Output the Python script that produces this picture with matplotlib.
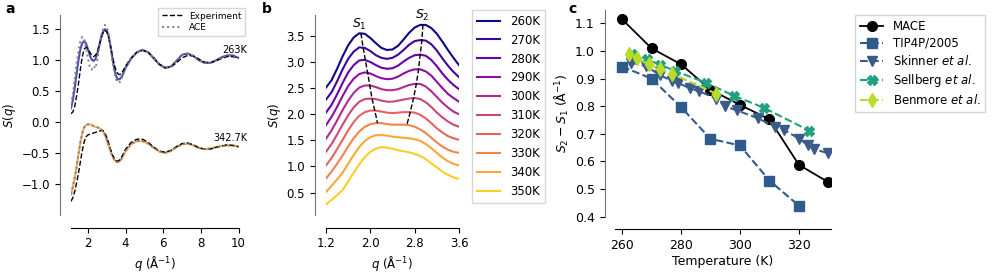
import numpy as np
import matplotlib
matplotlib.use("Agg")
import matplotlib.pyplot as plt

# ---------------- panel a: S(q) at two temperatures ----------------
qa = [1.1, 1.2, 1.3, 1.4, 1.5, 1.6, 1.7, 1.8, 1.9, 2.0, 2.1, 2.2, 2.3, 2.4, 2.5,
      2.6, 2.7, 2.8, 2.9, 3.0, 3.1, 3.2, 3.3, 3.4, 3.5, 3.6, 3.7, 3.8, 3.9, 4.0,
      4.3, 4.6, 4.9, 5.2, 5.5, 5.8, 6.1, 6.4, 6.7, 7.0, 7.3, 7.6, 7.9, 8.2, 8.5,
      8.8, 9.1, 9.4, 9.7, 10.0]

mace_263 = [0.22, 0.35, 0.55, 0.78, 1.00, 1.17, 1.27, 1.30, 1.26, 1.17, 1.07, 1.00, 0.98, 1.01, 1.10,
            1.23, 1.36, 1.45, 1.49, 1.47, 1.38, 1.22, 1.03, 0.85, 0.73, 0.68, 0.69, 0.73, 0.80, 0.87,
            1.02, 1.12, 1.16, 1.12, 1.02, 0.92, 0.87, 0.89, 0.98, 1.08, 1.10, 1.06, 0.99, 0.95, 0.95,
            0.99, 1.04, 1.07, 1.07, 1.03]
ace_263 = [0.28, 0.45, 0.70, 0.95, 1.15, 1.30, 1.37, 1.33, 1.18, 1.02, 0.88, 0.84, 0.90, 0.86, 1.00,
           1.20, 1.38, 1.50, 1.56, 1.53, 1.40, 1.20, 0.98, 0.80, 0.68, 0.63, 0.64, 0.70, 0.78, 0.86,
           1.02, 1.12, 1.16, 1.12, 1.02, 0.92, 0.87, 0.89, 0.98, 1.08, 1.10, 1.06, 0.99, 0.95, 0.95,
           0.99, 1.04, 1.07, 1.07, 1.03]
exp_263 = [0.13, 0.16, 0.25, 0.42, 0.62, 0.85, 1.05, 1.17, 1.20, 1.18, 1.12, 1.07, 1.05, 1.07, 1.13,
           1.23, 1.34, 1.43, 1.47, 1.45, 1.36, 1.22, 1.06, 0.92, 0.82, 0.77, 0.76, 0.79, 0.84, 0.90,
           1.03, 1.12, 1.15, 1.12, 1.03, 0.93, 0.87, 0.88, 0.95, 1.03, 1.07, 1.06, 1.01, 0.96, 0.95,
           0.98, 1.02, 1.05, 1.05, 1.03]

mace_343 = [-1.17, -1.05, -0.90, -0.72, -0.52, -0.33, -0.18, -0.09, -0.05, -0.04, -0.04, -0.05, -0.07, -0.08, -0.09,
            -0.10, -0.12, -0.15, -0.21, -0.29, -0.38, -0.47, -0.55, -0.61, -0.64, -0.65, -0.63, -0.59, -0.53, -0.47,
            -0.36, -0.31, -0.31, -0.35, -0.42, -0.48, -0.50, -0.47, -0.41, -0.36, -0.35, -0.38, -0.42, -0.44, -0.43,
            -0.41, -0.39, -0.38, -0.38, -0.40]
ace_343 = [-1.16, -1.04, -0.89, -0.71, -0.51, -0.33, -0.18, -0.09, -0.05, -0.04, -0.04, -0.05, -0.07, -0.08, -0.09,
           -0.10, -0.12, -0.15, -0.21, -0.29, -0.38, -0.47, -0.55, -0.61, -0.64, -0.65, -0.63, -0.59, -0.53, -0.47,
           -0.36, -0.31, -0.31, -0.35, -0.42, -0.48, -0.50, -0.47, -0.41, -0.36, -0.35, -0.38, -0.42, -0.44, -0.43,
           -0.41, -0.39, -0.38, -0.38, -0.40]
exp_343 = [-1.28, -1.22, -1.12, -0.98, -0.82, -0.64, -0.46, -0.32, -0.24, -0.21, -0.20, -0.19, -0.18, -0.17, -0.16,
           -0.15, -0.14, -0.14, -0.18, -0.25, -0.34, -0.44, -0.53, -0.59, -0.63, -0.63, -0.61, -0.56, -0.50, -0.44,
           -0.33, -0.28, -0.28, -0.33, -0.41, -0.47, -0.49, -0.46, -0.40, -0.35, -0.34, -0.37, -0.42, -0.44, -0.44,
           -0.41, -0.39, -0.37, -0.38, -0.40]

# ---------------- panel b: S(q) vs temperature ----------------
qb = [1.2, 1.3, 1.4, 1.5, 1.6, 1.7, 1.8, 1.9, 2.0, 2.1, 2.2, 2.3, 2.4,
      2.5, 2.6, 2.7, 2.8, 2.9, 3.0, 3.1, 3.2, 3.3, 3.4, 3.5, 3.6]
temps_b = ["260K", "270K", "280K", "290K", "300K", "310K", "320K", "330K", "340K", "350K"]
sq_b = [
    [0.26, 0.40, 0.62, 0.86, 1.07, 1.22, 1.30, 1.29, 1.21, 1.11, 1.02, 0.98, 0.99, 1.06, 1.18, 1.31, 1.41, 1.46, 1.46, 1.40, 1.29, 1.14, 0.98, 0.83, 0.69],
    [0.28, 0.42, 0.63, 0.86, 1.06, 1.20, 1.28, 1.27, 1.21, 1.13, 1.08, 1.06, 1.08, 1.14, 1.23, 1.33, 1.40, 1.42, 1.41, 1.34, 1.22, 1.07, 0.93, 0.81, 0.71],
    [0.28, 0.43, 0.63, 0.85, 1.05, 1.19, 1.28, 1.29, 1.25, 1.19, 1.14, 1.12, 1.13, 1.18, 1.26, 1.33, 1.38, 1.39, 1.37, 1.29, 1.17, 1.03, 0.91, 0.81, 0.73],
    [0.29, 0.45, 0.64, 0.85, 1.04, 1.18, 1.27, 1.30, 1.28, 1.23, 1.19, 1.17, 1.18, 1.22, 1.28, 1.33, 1.36, 1.36, 1.32, 1.24, 1.12, 1.00, 0.89, 0.81, 0.74],
    [0.28, 0.44, 0.63, 0.83, 1.01, 1.16, 1.26, 1.30, 1.30, 1.27, 1.23, 1.21, 1.21, 1.23, 1.27, 1.31, 1.33, 1.33, 1.28, 1.19, 1.08, 0.97, 0.88, 0.80, 0.75],
    [0.28, 0.43, 0.61, 0.80, 0.98, 1.13, 1.24, 1.29, 1.30, 1.29, 1.26, 1.24, 1.24, 1.26, 1.28, 1.30, 1.31, 1.29, 1.23, 1.14, 1.03, 0.94, 0.86, 0.80, 0.76],
    [0.27, 0.41, 0.58, 0.76, 0.94, 1.10, 1.22, 1.29, 1.32, 1.32, 1.30, 1.28, 1.27, 1.28, 1.29, 1.29, 1.28, 1.24, 1.17, 1.08, 0.98, 0.90, 0.83, 0.79, 0.76],
    [0.27, 0.40, 0.55, 0.71, 0.88, 1.04, 1.17, 1.26, 1.31, 1.33, 1.33, 1.31, 1.30, 1.30, 1.30, 1.29, 1.26, 1.21, 1.14, 1.05, 0.96, 0.88, 0.82, 0.78, 0.76],
    [0.26, 0.38, 0.50, 0.63, 0.80, 0.97, 1.12, 1.24, 1.31, 1.35, 1.35, 1.34, 1.32, 1.31, 1.30, 1.29, 1.27, 1.24, 1.18, 1.10, 1.01, 0.92, 0.85, 0.80, 0.77],
    [0.27, 0.36, 0.45, 0.55, 0.71, 0.88, 1.04, 1.18, 1.28, 1.34, 1.37, 1.36, 1.34, 1.31, 1.29, 1.27, 1.24, 1.20, 1.14, 1.06, 0.98, 0.90, 0.84, 0.79, 0.76],
]
offset_b = 0.25
# peak positions (260K .. 330K)
s1_q = [1.83, 1.87, 1.91, 1.95, 1.99, 2.03, 2.08, 2.13]
s1_h = [1.30, 1.28, 1.29, 1.30, 1.30, 1.30, 1.32, 1.33]
s2_q = [2.95, 2.93, 2.90, 2.87, 2.83, 2.78, 2.72, 2.66]
s2_h = [1.47, 1.42, 1.39, 1.36, 1.33, 1.31, 1.29, 1.30]

# ---------------- panel c: S2 - S1 vs temperature ----------------
mace_T = [260, 270, 280, 290, 300, 310, 320, 330]
mace_d = [1.115, 1.01, 0.952, 0.86, 0.805, 0.753, 0.588, 0.525]
tip_T = [260, 270, 280, 290, 300, 310, 320]
tip_d = [0.944, 0.90, 0.797, 0.682, 0.658, 0.531, 0.440]
skin_T = [263, 268, 273, 277, 279, 283, 286, 292, 295, 299, 306, 312, 315, 320, 323, 325, 330]
skin_d = [0.958, 0.946, 0.912, 0.892, 0.885, 0.865, 0.855, 0.828, 0.80, 0.785, 0.757, 0.726, 0.714, 0.683, 0.66, 0.645, 0.63]
sell_T = [263.5, 268.5, 273, 278, 288.5, 298, 308, 323.5]
sell_d = [0.99, 0.97, 0.95, 0.928, 0.885, 0.838, 0.795, 0.712]
benm_T = [262.5, 265, 269, 273, 277, 292]
benm_d = [0.99, 0.975, 0.952, 0.935, 0.918, 0.845]

plt.rcParams['font.family'] = 'DejaVu Sans'
plt.rcParams['axes.labelpad'] = 2.5

W, H = 996, 273
fig = plt.figure(figsize=(W / 100, H / 100), dpi=100)


def px_axes(x0, y0, x1, y1):
    # axes from pixel box (top-left origin)
    return fig.add_axes([x0 / W, 1 - y1 / H, (x1 - x0) / W, (y1 - y0) / H])


def style(ax, fs):
    ax.spines['top'].set_visible(False)
    ax.spines['right'].set_visible(False)
    ax.spines['left'].set_position(('outward', 8))
    ax.spines['bottom'].set_position(('outward', 9))
    ax.spines['left'].set_color('0.45')
    ax.tick_params(length=3.5, width=0.8, labelsize=fs)
    ax.xaxis.label.set_size(fs)
    ax.yaxis.label.set_size(fs)


# panel a
axa = px_axes(71, 15, 238.5, 215)
axa.plot(qa, mace_263, color='#4f4fb3', lw=1.5)
axa.plot(qa, mace_343, color='#f5a55c', lw=1.5)
axa.plot(qa, exp_263, color='black', ls='--', lw=1.0, label='Experiment')
axa.plot(qa, ace_263, color='0.5', ls=':', lw=1.4, label='ACE')
axa.plot(qa, exp_343, color='black', ls='--', lw=1.0)
axa.plot(qa, ace_343, color='0.5', ls=':', lw=1.4)
axa.set_xlim(1.1, 10)
axa.set_ylim(-1.5, 1.72)
axa.set_xticks([2, 4, 6, 8, 10])
axa.set_yticks([-1.0, -0.5, 0.0, 0.5, 1.0, 1.5])
axa.set_xlabel(r'$q$ (Å$^{-1}$)')
axa.set_ylabel(r'$S(q)$')
axa.text(10.45, 1.16, '263K', fontsize=7, ha='right', va='center')
axa.text(10.45, -0.26, '342.7K', fontsize=7, ha='right', va='center')
axa.legend(loc='upper right', bbox_to_anchor=(245 / W, 1 - 8 / H), bbox_transform=fig.transFigure,
           fontsize=6.5, frameon=True, fancybox=False, edgecolor='0.8', borderaxespad=0,
           handlelength=2.2, labelspacing=0.3)
style(axa, 8.5)

# panel b
axb = px_axes(326, 15, 459, 215)
cols = plt.cm.plasma(np.linspace(0, 0.9, len(temps_b)))
for i, (lab, s) in enumerate(zip(temps_b, sq_b)):
    off = offset_b * (len(temps_b) - 1 - i)
    axb.plot(qb, np.array(s) + off, color=cols[i], lw=1.5, label=lab)
offs = [offset_b * (len(temps_b) - 1 - i) for i in range(len(s1_q))]
axb.plot(s1_q, np.array(s1_h) + np.array(offs), 'k--', lw=1.0)
axb.plot(s2_q, np.array(s2_h) + np.array(offs), 'k--', lw=1.0)
axb.text(s1_q[0] - 0.02, 3.72, r'$S_1$', fontsize=9, ha='center', va='center')
axb.text(s2_q[0] - 0.02, 3.9, r'$S_2$', fontsize=9, ha='center', va='center')
axb.set_xlim(1.2, 3.6)
axb.set_ylim(0.07, 3.9)
axb.set_xticks([1.2, 2.0, 2.8, 3.6])
axb.set_yticks([0.5, 1.0, 1.5, 2.0, 2.5, 3.0, 3.5])
axb.set_xlabel(r'$q$ (Å$^{-1}$)')
axb.set_ylabel(r'$S(q)$')
axb.legend(loc='upper left', bbox_to_anchor=(472 / W, 1 - 10 / H), bbox_transform=fig.transFigure,
           fontsize=8.5, fancybox=False, edgecolor='0.8', borderaxespad=0, labelspacing=0.5)
style(axb, 8.5)

# panel c
axc = px_axes(615, 10, 831, 216.7)
axc.plot(mace_T, mace_d, 'o-', color='black', ms=7, lw=1.3, label='MACE')
axc.plot(tip_T, tip_d, 's--', color='#2f5b8c', ms=7, lw=1.5, label='TIP4P/2005')
axc.plot(skin_T, skin_d, 'v--', color='#3b5b89', ms=7, lw=1.5, label=r'Skinner $et\ al.$')
axc.plot(sell_T, sell_d, 'X--', color='#22a07f', ms=6.5, lw=1.5, label=r'Sellberg $et\ al.$')
axc.plot(benm_T, benm_d, 'd--', color='#b8dc2a', ms=7, lw=1.5, label=r'Benmore $et\ al.$')
axc.set_xlim(257.6, 330.9)
axc.set_ylim(0.4063, 1.1487)
axc.set_xticks([260, 280, 300, 320])
axc.set_yticks([0.4, 0.5, 0.6, 0.7, 0.8, 0.9, 1.0, 1.1])
axc.set_xlabel('Temperature (K)')
axc.set_ylabel(r'$S_2 - S_1$ (Å$^{-1}$)')
axc.legend(loc='upper left', bbox_to_anchor=(855 / W, 1 - 15 / H), bbox_transform=fig.transFigure,
           fontsize=8.5, fancybox=False, edgecolor='0.8', borderaxespad=0, labelspacing=0.35)
style(axc, 9)
axc.spines['left'].set_position(('outward', 7.5))

for lab, x in [('a', 5), ('b', 262), ('c', 568)]:
    fig.text(x / W, 1 - 9 / H, lab, fontsize=10, fontweight='bold', va='center', ha='left')

fig.savefig('out.png', dpi=100)
